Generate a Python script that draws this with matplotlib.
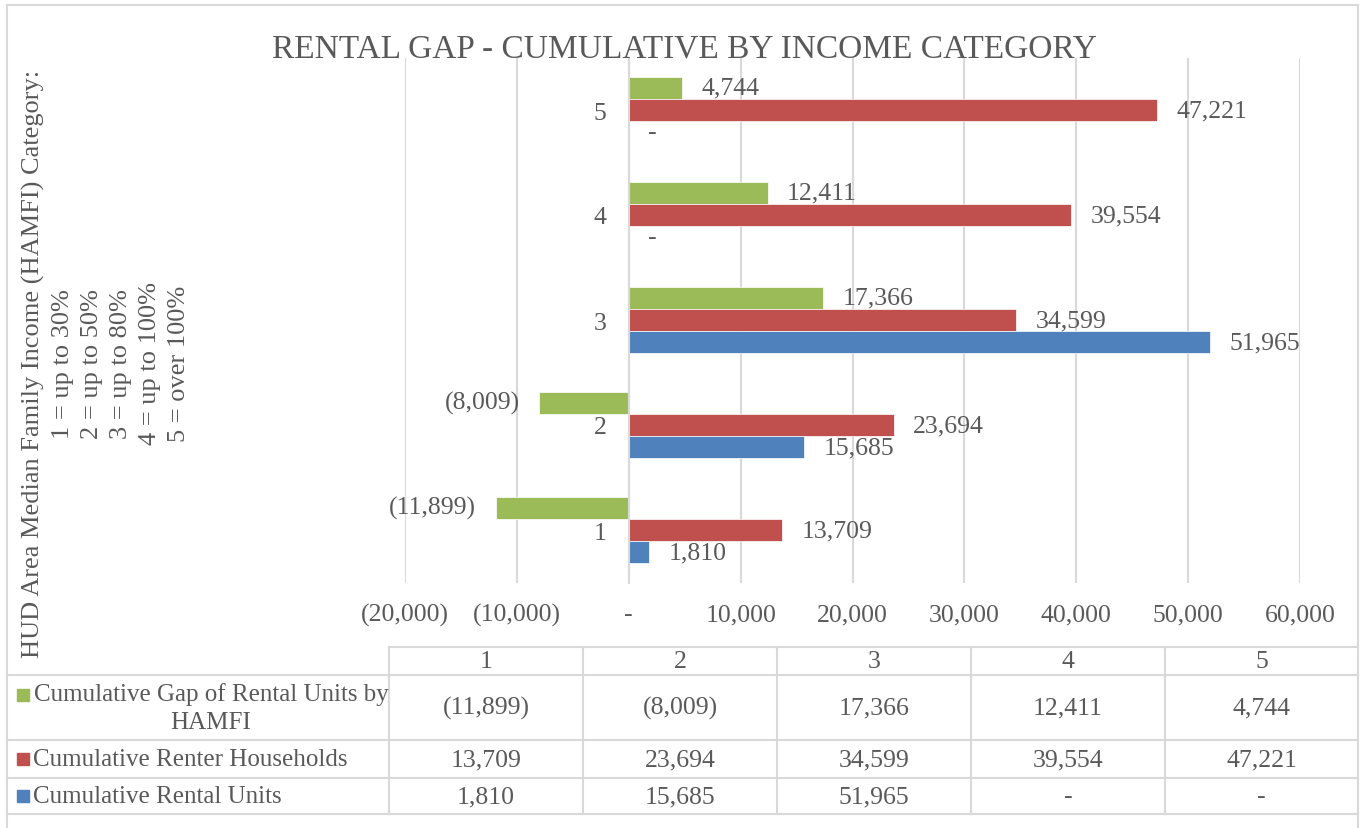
import matplotlib
matplotlib.use('Agg')
import matplotlib.pyplot as plt
from matplotlib.lines import Line2D
from matplotlib.patches import Rectangle
from matplotlib.ticker import FuncFormatter
import numpy as np

# Chart data
categories = [1, 2, 3, 4, 5]
rental_units = [1810, 15685, 51965, 0, 0]
renter_households = [13709, 23694, 34599, 39554, 47221]
rental_gap = [-11899, -8009, 17366, 12411, 4744]

series_names = ['Cumulative Gap of Rental Units by\nHAMFI',
                'Cumulative Renter Households',
                'Cumulative Rental Units']
title = 'RENTAL GAP - CUMULATIVE BY INCOME CATEGORY'
ylabel = ('HUD Area Median Family Income (HAMFI) Category:\n'
          '1 = up to 30%\n2 = up to 50%\n3 = up to 80%\n'
          '4 = up to 100%\n5 = over 100%')
x_ticks = list(range(-20000, 60001, 10000))

GREEN = '#9BBB59'
RED = '#C0504D'
BLUE = '#4F81BD'
TXT = '#595959'
GRID = '#D9D9D9'

W, H = 1363, 829
plt.rcParams['font.family'] = ['Liberation Serif', 'DejaVu Serif']


def fmt(v, pos=None):
    # accounting style: negatives in brackets, zero as dash
    if round(v) == 0:
        return '-'
    if v < 0:
        return f'({abs(v):,.0f})'
    return f'{v:,.0f}'


def fx(x):
    return x / W


def fy(y):
    return 1 - y / H


fig = plt.figure(figsize=(W / 100, H / 100), dpi=100)

ax = fig.add_axes([fx(405), fy(583.5), 895 / W, 525 / H])
cats = np.array(categories)
h = 0.21
b_gap = ax.barh(cats + h, rental_gap, height=h, color=GREEN, edgecolor='white', linewidth=0.5)
b_hh = ax.barh(cats, renter_households, height=h, color=RED, edgecolor='white', linewidth=0.5)
b_units = ax.barh(cats - h, rental_units, height=h, color=BLUE, edgecolor='white', linewidth=0.5)

for bars in (b_gap, b_hh, b_units):
    ax.bar_label(bars, fmt=fmt, padding=14, fontsize=18.5, color=TXT)

ax.set_xlim(-20000, 60000)
ax.set_ylim(0.5, 5.5)
ax.set_xticks(x_ticks)
ax.xaxis.set_major_formatter(FuncFormatter(fmt))
ax.set_yticks(categories)
ax.set_yticklabels([str(c) for c in categories])
ax.tick_params(axis='x', length=0, pad=15, labelsize=18.5, labelcolor=TXT)
ax.tick_params(axis='y', length=0, pad=16, labelsize=18.5, labelcolor=TXT)

ax.spines['left'].set_position(('data', 0))
ax.spines['left'].set_color(GRID)
ax.spines['left'].set_linewidth(1.5)
for s in ('top', 'right', 'bottom'):
    ax.spines[s].set_visible(False)
ax.grid(axis='x', color=GRID, linewidth=1.5)
ax.set_axisbelow(True)

fig.text(fx(684), fy(49), title, fontsize=24, color=TXT, ha='center', va='center')
fig.text(fx(106), fy(364), ylabel, fontsize=19, color=TXT, rotation=90,
         ha='center', va='center', multialignment='center', linespacing=1.42)


def hline(x0, x1, y):
    fig.add_artist(Line2D([fx(x0), fx(x1)], [fy(y), fy(y)], color=GRID, lw=1.5))


def vline(x, y0, y1):
    fig.add_artist(Line2D([fx(x), fx(x)], [fy(y0), fy(y1)], color=GRID, lw=1.5))


# outer chart border
hline(7, 1358, 6)
vline(7, 6, 829)
vline(1358, 6, 829)

# data table
col_edges = [389, 583, 777, 971, 1165, 1358]
row_edges = [676, 741, 779, 815]
hline(389, 1358, 648)
for y in row_edges:
    hline(7, 1358, y)
for x in col_edges[:-1]:
    vline(x, 648, 815)

col_centers = [(a + b) / 2 for a, b in zip(col_edges[:-1], col_edges[1:])]
for c, xc in zip(categories, col_centers):
    fig.text(fx(xc), fy(662), str(c), fontsize=18.5, color=TXT, ha='center', va='center')

rows = [rental_gap, renter_households, rental_units]
colors = [GREEN, RED, BLUE]
row_centers = [(a + b) / 2 for a, b in zip(row_edges[:-1], row_edges[1:])]
for name, vals, col, yc in zip(series_names, rows, colors, row_centers):
    for v, xc in zip(vals, col_centers):
        fig.text(fx(xc), fy(yc), fmt(v), fontsize=18.5, color=TXT, ha='center', va='center')
    if '\n' in name:
        fig.text(fx(211), fy(yc), name, fontsize=18, color=TXT, ha='center', va='center',
                 multialignment='center', linespacing=1.3)
        key_y = yc - 13
    else:
        fig.text(fx(33), fy(yc), name, fontsize=18, color=TXT, ha='left', va='center')
        key_y = yc
    fig.add_artist(Rectangle((fx(17), fy(key_y + 6)), 12 / W, 12 / H,
                             transform=fig.transFigure, color=col))

fig.savefig('out.png', dpi=100)
